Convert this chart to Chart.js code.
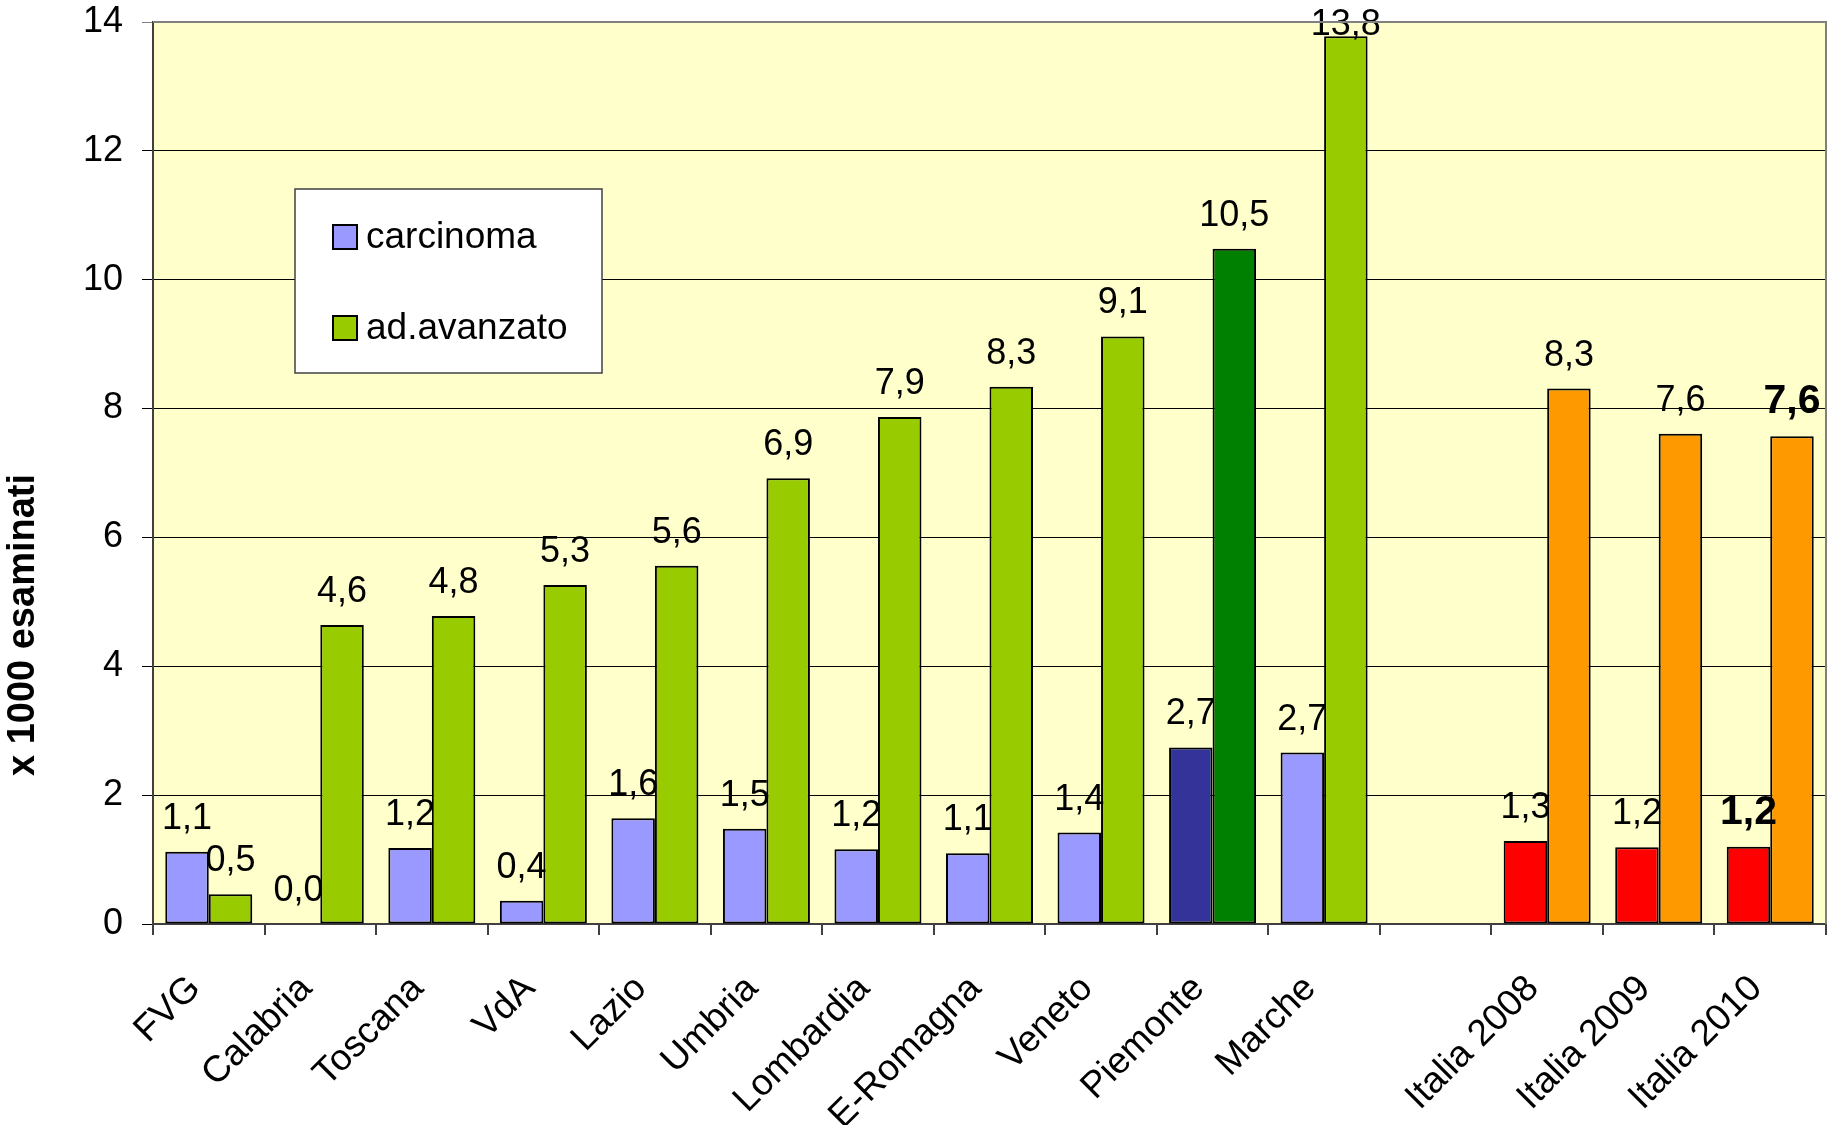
<!DOCTYPE html>
<html><head><meta charset="utf-8">
<script src="https://cdn.jsdelivr.net/npm/chart.js@4.4.1/dist/chart.umd.min.js"></script>
<style>html,body{margin:0;padding:0;background:#fff}#wrap{width:1830px;height:1125px;position:relative}</style>
</head><body><div id="wrap"><canvas id="c"></canvas></div>
<script>
const categories = ['FVG','Calabria','Toscana','VdA','Lazio','Umbria','Lombardia','E-Romagna','Veneto','Piemonte','Marche','','Italia 2008','Italia 2009','Italia 2010'];
const carcinoma  = [1.12, 0.0, 1.18, 0.36, 1.64, 1.48, 1.16, 1.10, 1.42, 2.74, 2.66, null, 1.29, 1.19, 1.20];
const adAvanzato = [0.46, 4.64, 4.78, 5.26, 5.56, 6.92, 7.87, 8.34, 9.12, 10.48, 13.78, null, 8.31, 7.61, 7.57];
const seriesNames = ['carcinoma', 'ad.avanzato'];
const yTickValues = [0, 2, 4, 6, 8, 10, 12, 14];
const yTitle = 'x 1000 esaminati';
const boldLabelIndices = [14];

const carcinomaColors = ['#9999FF','#9999FF','#9999FF','#9999FF','#9999FF','#9999FF','#9999FF','#9999FF','#9999FF','#333399','#9999FF','#9999FF','#FF0000','#FF0000','#FF0000'];
const adColors = ['#99CC00','#99CC00','#99CC00','#99CC00','#99CC00','#99CC00','#99CC00','#99CC00','#99CC00','#008000','#99CC00','#99CC00','#FF9900','#FF9900','#FF9900'];
const legendColors = ['#9999FF', '#99CC00'];

const FONT = '"Liberation Sans", Arial, Helvetica, sans-serif';

const bgPlugin = {
  id: 'plotBg',
  beforeDraw(chart) {
    const {ctx, chartArea: a} = chart;
    ctx.save();
    ctx.fillStyle = '#FFFFCC';
    ctx.fillRect(a.left, a.top, a.right - a.left, a.bottom - a.top);
    ctx.restore();
  },
  afterDraw(chart) {
    const {ctx, chartArea: a} = chart;
    ctx.save();
    ctx.strokeStyle = '#808080';
    ctx.lineWidth = 2;
    ctx.beginPath();
    ctx.moveTo(a.left, a.top);
    ctx.lineTo(a.right, a.top);
    ctx.lineTo(a.right, a.bottom);
    ctx.stroke();
    ctx.restore();
  }
};

const yTitlePlugin = {
  id: 'yTitle',
  afterDraw(chart) {
    const ctx = chart.ctx;
    ctx.save();
    ctx.translate(24, 625);
    ctx.rotate(-Math.PI / 2);
    ctx.font = 'bold 38px ' + FONT;
    ctx.fillStyle = '#000';
    ctx.textAlign = 'center';
    ctx.textBaseline = 'middle';
    ctx.fillText(yTitle, 0, 0);
    ctx.restore();
  }
};

const valueLabelPlugin = {
  id: 'valueLabels',
  afterDatasetsDraw(chart) {
    const ctx = chart.ctx;
    chart.data.datasets.forEach((ds, di) => {
      const meta = chart.getDatasetMeta(di);
      meta.data.forEach((el, i) => {
        const v = ds.data[i];
        if (v === null || v === undefined) return;
        const bold = boldLabelIndices.includes(i);
        ctx.save();
        ctx.font = (bold ? 'bold 41px ' : '36px ') + FONT;
        ctx.fillStyle = '#000';
        ctx.textAlign = 'center';
        ctx.textBaseline = 'alphabetic';
        const y = Math.max(el.y - 23, 35);
        ctx.fillText(v.toFixed(1).replace('.', ','), el.x, y);
        ctx.restore();
      });
    });
  }
};

const boxLegendPlugin = {
  id: 'boxLegend',
  afterDraw(chart) {
    const ctx = chart.ctx;
    const box = {x: 295, y: 189, w: 307, h: 184};
    ctx.save();
    ctx.fillStyle = '#FFFFFF';
    ctx.fillRect(box.x, box.y, box.w, box.h);
    ctx.strokeStyle = '#404040';
    ctx.lineWidth = 1.5;
    ctx.strokeRect(box.x, box.y, box.w, box.h);
    const rows = [237, 328];
    chart.data.datasets.forEach((ds, i) => {
      const cy = rows[i];
      ctx.fillStyle = legendColors[i];
      ctx.fillRect(333, cy - 12, 24, 24);
      ctx.strokeStyle = '#000';
      ctx.lineWidth = 2;
      ctx.strokeRect(333, cy - 12, 24, 24);
      ctx.fillStyle = '#000';
      ctx.font = '37px ' + FONT;
      ctx.textAlign = 'left';
      ctx.textBaseline = 'middle';
      ctx.fillText(ds.label, 366, cy + 1);
    });
    ctx.restore();
  }
};

new Chart(document.getElementById('c'), {
  type: 'bar',
  data: {
    labels: categories,
    datasets: [
      {label: seriesNames[0], data: carcinoma, backgroundColor: carcinomaColors, borderColor: '#000', borderWidth: 2, borderSkipped: false},
      {label: seriesNames[1], data: adAvanzato, backgroundColor: adColors, borderColor: '#000', borderWidth: 2, borderSkipped: false}
    ]
  },
  options: {
    responsive: true,
    maintainAspectRatio: false,
    animation: false,
    layout: {padding: {left: 0, right: 4, top: 22, bottom: 0}},
    datasets: {bar: {categoryPercentage: 0.78, barPercentage: 1.0}},
    plugins: {legend: {display: false}, tooltip: {enabled: false}, title: {display: false}},
    scales: {
      x: {
        offset: true,
        grid: {display: true, drawOnChartArea: false, drawTicks: true, tickLength: 11, color: '#404040', lineWidth: 2, offset: true},
        border: {display: true, color: '#404040', width: 2},
        ticks: {autoSkip: false, minRotation: 45, maxRotation: 45, padding: 32, labelOffset: -14, color: '#000', font: {family: FONT, size: 37}},
        afterFit(s) { s.height = 201; s.paddingLeft = 0; s.paddingRight = 0; }
      },
      y: {
        min: 0, max: 14,
        afterBuildTicks(s) { s.ticks = yTickValues.map(v => ({value: v})); },
        grid: {color: ctx => (ctx.tick && ctx.tick.value === 14 ? '#808080' : '#000'), lineWidth: 1, tickLength: 11, drawTicks: true},
        border: {display: true, color: '#404040', width: 2},
        ticks: {padding: 19, color: '#000', font: {family: FONT, size: 36}, callback: v => String(v)},
        title: {display: false},
        afterFit(s) { s.width = 153; s.paddingTop = 0; s.paddingBottom = 0; }
      }
    }
  },
  plugins: [bgPlugin, valueLabelPlugin, boxLegendPlugin, yTitlePlugin]
});
</script>
</body></html>
